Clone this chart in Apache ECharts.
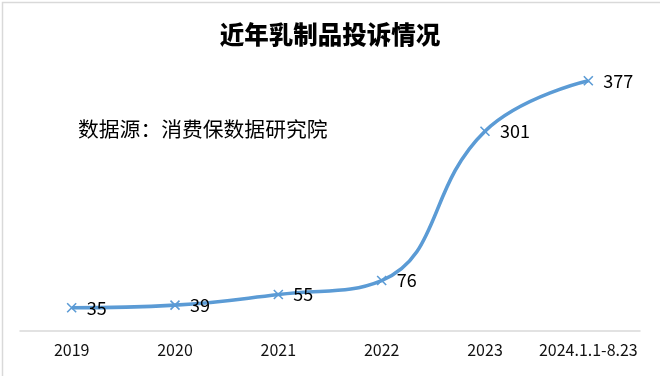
<!DOCTYPE html>
<html>
<head>
<meta charset="utf-8">
<script src="https://cdn.jsdelivr.net/npm/echarts@6/dist/echarts.min.js"></script>
<style>
html,body{margin:0;padding:0;background:#fff;}
#main{width:660px;height:376px;}
</style>
</head>
<body>
<div id="main"></div>
<script>
var categories = ['2019', '2020', '2021', '2022', '2023', '2024.1.1-8.23'];
var complaints = [35, 39, 55, 76, 301, 377];
var titleText = '近年乳制品投诉情况';
var sourceText = '数据源：消费保数据研究院';

var chart = echarts.init(document.getElementById('main'));
var font = '"Noto Sans CJK SC", "Microsoft YaHei", sans-serif';
chart.setOption({
  backgroundColor: '#fff',
  animation: false,
  title: {
    text: titleText,
    left: 'center',
    top: 17,
    textStyle: { fontSize: 24.5, fontWeight: 900, color: '#000', fontFamily: font }
  },
  graphic: [
    {
      type: 'rect', left: 0, top: 0,
      shape: { x: 0.5, y: 0.5, width: 659, height: 375 },
      style: { fill: 'none', stroke: '#d9d9d9', lineWidth: 1.5 },
      silent: true
    },
    {
      type: 'text', left: 78, top: 119,
      style: { text: sourceText, fill: '#000', font: '20.8px ' + font }
    }
  ],
  grid: { left: 20, right: 20, top: 65.5, bottom: 45 },
  xAxis: {
    type: 'category',
    data: categories,
    boundaryGap: true,
    axisLine: { lineStyle: { color: '#d9d9d9', width: 1.5 } },
    axisTick: { show: false },
    axisLabel: { color: '#111', fontSize: 16, fontFamily: font, margin: 11, interval: 0 }
  },
  yAxis: {
    type: 'value', min: 0, max: 400, show: false,
    splitLine: { show: false }
  },
  series: [{
    type: 'line',
    data: complaints,
    smooth: 0.45,
    lineStyle: { color: '#5b9bd5', width: 3.6 },
    symbol: 'path://M0,0L10,10M10,0L0,10',
    symbolSize: 9,
    itemStyle: { color: 'none', borderColor: '#5b9bd5', borderWidth: 1.6 },
    label: {
      show: true, position: 'right', distance: 8,
      color: '#000', fontSize: 18, fontFamily: font
    }
  }]
});
</script>
</body>
</html>
